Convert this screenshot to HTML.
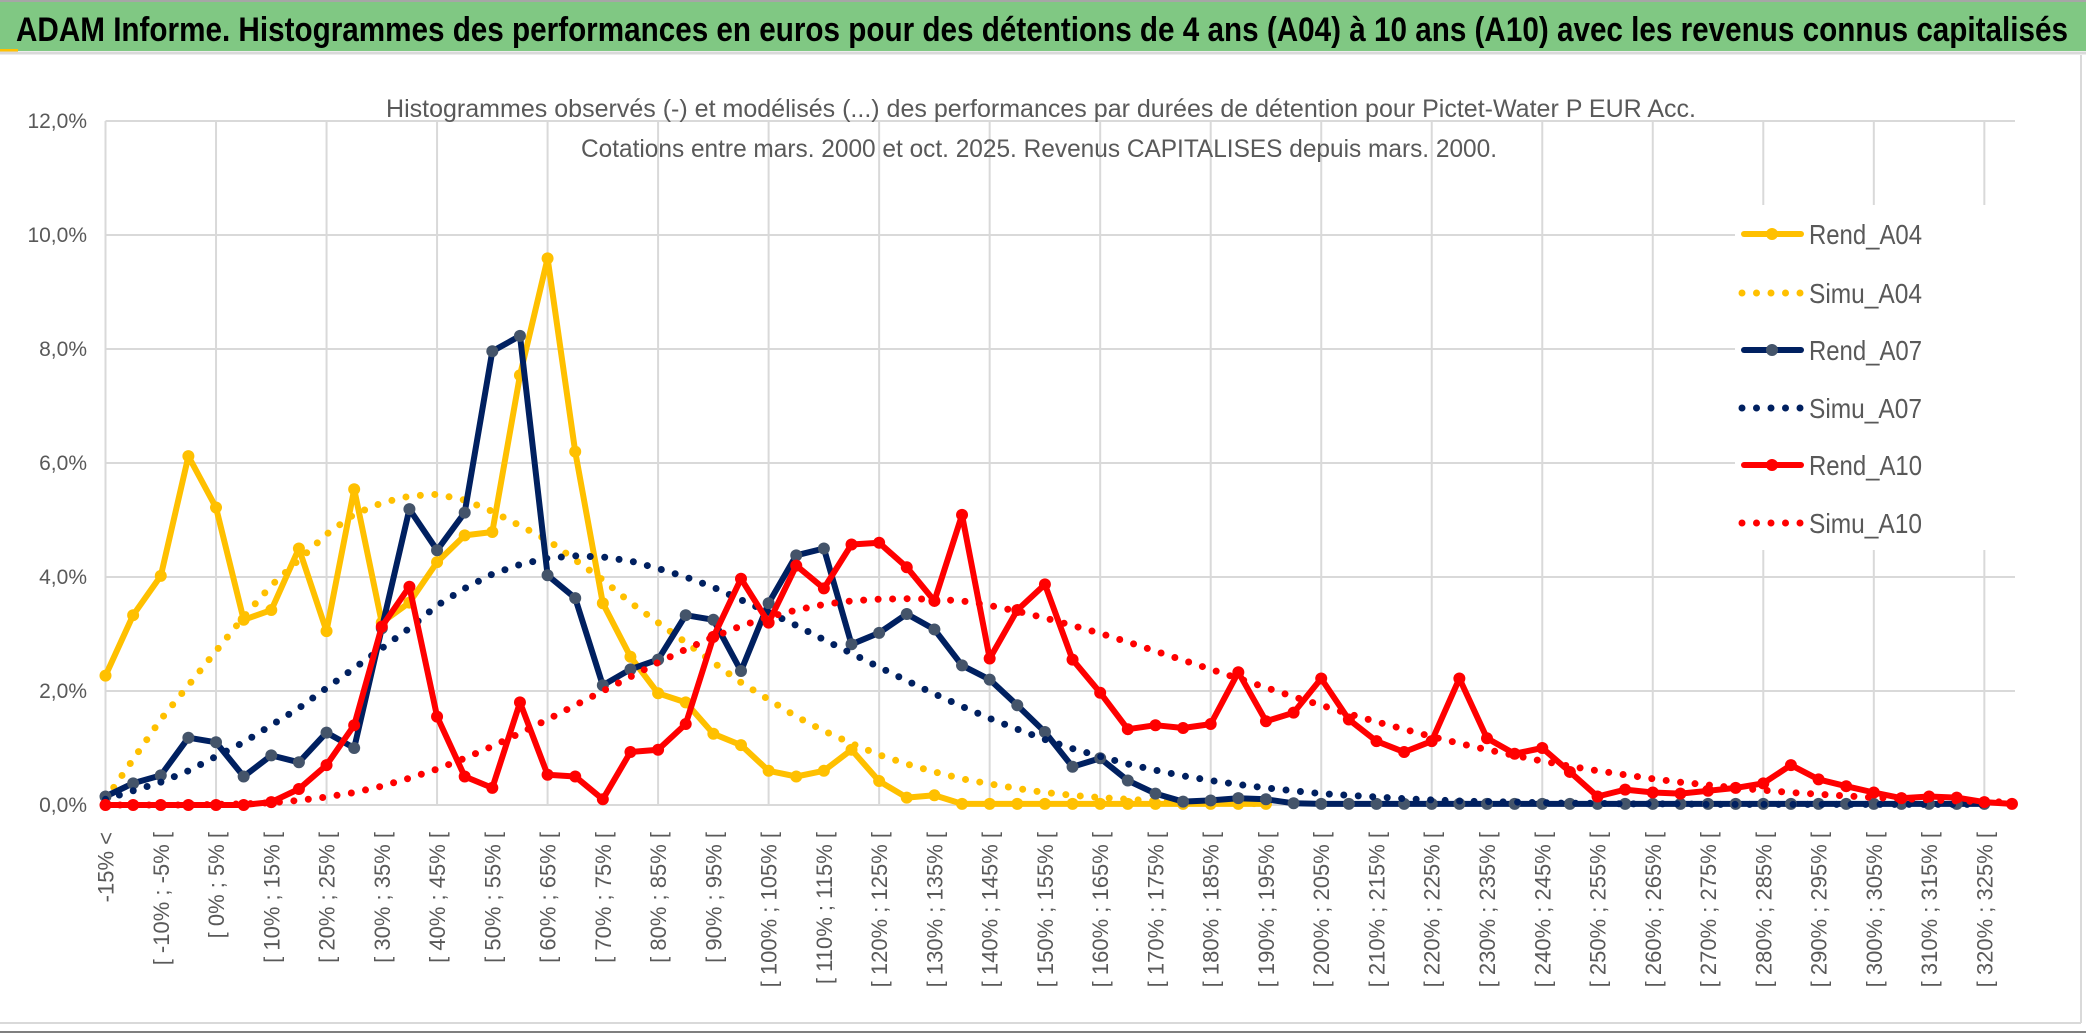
<!DOCTYPE html>
<html><head><meta charset="utf-8"><style>
html,body{margin:0;padding:0;background:#fff;}
svg{display:block;font-family:"Liberation Sans",sans-serif;}
</style></head><body>
<svg id="chart" width="2086" height="1033" viewBox="0 0 2086 1033" xmlns="http://www.w3.org/2000/svg">
<rect x="0" y="0" width="2086" height="1033" fill="#fff"/>
<line x1="0" y1="1" x2="2086" y2="1" stroke="#a6a6a6" stroke-width="2"/>
<rect x="0" y="2" width="2086" height="49" fill="#80c883"/>
<rect x="0" y="49" width="18" height="3" fill="#ffc000"/>
<line x1="0" y1="53" x2="2086" y2="53" stroke="#d9d9d9" stroke-width="3"/>
<text x="16" y="41" font-size="34" font-weight="bold" fill="#000" textLength="2052" lengthAdjust="spacingAndGlyphs">ADAM Informe. Histogrammes des performances en euros pour des détentions de 4 ans (A04) à 10 ans (A10) avec les revenus connus capitalisés</text>
<line x1="2081" y1="55" x2="2081" y2="1023" stroke="#d9d9d9" stroke-width="2"/>
<line x1="0" y1="1023" x2="2081" y2="1023" stroke="#d9d9d9" stroke-width="2"/>
<line x1="0" y1="1032" x2="2086" y2="1032" stroke="#7f7f7f" stroke-width="2"/>
<g id="grid"></g>
<g id="yticks"></g>
<g id="xticks"></g>
<text x="386" y="117" font-size="25" fill="#595959" textLength="1310" lengthAdjust="spacingAndGlyphs">Histogrammes observés (-) et modélisés (...) des performances par durées de détention pour Pictet-Water P EUR Acc.</text>
<text x="581" y="157" font-size="25" fill="#595959" textLength="916" lengthAdjust="spacingAndGlyphs">Cotations entre mars. 2000 et oct. 2025. Revenus CAPITALISES depuis mars. 2000.</text>
<g id="series"></g>
<g id="legend"></g>
</svg>
<script>
const categories = (function(){const c=["-15% <"];for(let k=1;k<70;k++){const lo=-20+5*k;c.push("[ "+lo+"% ; "+(lo+5)+"% [");}return c;})();
const yTicks = [0,2,4,6,8,10,12];
const yTickLabels = ["0,0%","2,0%","4,0%","6,0%","8,0%","10,0%","12,0%"];
const rendA04 = [2.27,3.33,4.02,6.12,5.22,3.25,3.42,4.5,3.05,5.54,3.2,3.55,4.26,4.73,4.79,7.54,9.59,6.2,3.54,2.6,1.96,1.8,1.25,1.05,0.6,0.5,0.6,0.97,0.42,0.13,0.17,0.02,0.02,0.02,0.02,0.02,0.02,0.02,0.02,0.02,0.02,0.02,0.02];
const simuA04 = [0.1,0.8,1.5,2.1,2.7,3.3,3.85,4.3,4.75,5.1,5.3,5.42,5.45,5.35,5.15,4.9,4.65,4.3,3.95,3.55,3.2,2.85,2.5,2.15,1.85,1.55,1.3,1.08,0.88,0.72,0.58,0.46,0.37,0.29,0.22,0.17,0.13,0.1,0.07,0.05,0.04,0.03,0.02];
const rendA07 = [0.15,0.38,0.52,1.18,1.1,0.5,0.87,0.75,1.27,1.0,3.1,5.19,4.47,5.13,7.96,8.23,4.03,3.63,2.1,2.38,2.55,3.33,3.25,2.35,3.54,4.38,4.5,2.82,3.02,3.35,3.08,2.45,2.2,1.75,1.28,0.67,0.82,0.43,0.2,0.06,0.08,0.12,0.1,0.03,0.02,0.02,0.02,0.02,0.02,0.02,0.02,0.02,0.02,0.02,0.02,0.02,0.02,0.02,0.02,0.02,0.02,0.02,0.02,0.02,0.02,0.02,0.02,0.02,0.02];
const simuA07 = [0.1,0.25,0.4,0.6,0.85,1.1,1.4,1.7,2.05,2.4,2.75,3.1,3.5,3.8,4.05,4.22,4.33,4.37,4.35,4.28,4.15,4.0,3.82,3.6,3.38,3.15,2.9,2.66,2.42,2.18,1.95,1.73,1.52,1.33,1.15,0.99,0.85,0.72,0.61,0.51,0.43,0.36,0.3,0.25,0.2,0.17,0.14,0.11,0.09,0.07,0.06,0.05,0.04,0.03,0.03,0.02,0.02,0.02,0.01,0.01,0.01,0.01,0.01,0.01,0.01,0.01,0.01,0.01,0.01];
const rendA10 = [0,0,0,0,0,0,0.05,0.28,0.7,1.4,3.13,3.83,1.55,0.5,0.3,1.8,0.53,0.5,0.1,0.93,0.97,1.42,2.95,3.97,3.2,4.2,3.8,4.57,4.6,4.17,3.58,5.09,2.57,3.42,3.87,2.55,1.97,1.33,1.4,1.35,1.42,2.33,1.47,1.62,2.22,1.5,1.12,0.93,1.12,2.22,1.17,0.9,1.0,0.58,0.15,0.27,0.22,0.2,0.25,0.3,0.38,0.7,0.45,0.33,0.22,0.12,0.15,0.13,0.05,0.02];
const simuA10 = [0,0,0,0,0.01,0.02,0.04,0.08,0.14,0.22,0.33,0.47,0.63,0.82,1.03,1.26,1.5,1.75,2.0,2.25,2.5,2.73,2.95,3.14,3.3,3.42,3.52,3.58,3.61,3.62,3.61,3.58,3.5,3.4,3.28,3.15,3.01,2.86,2.7,2.54,2.38,2.22,2.06,1.9,1.75,1.6,1.46,1.33,1.2,1.08,0.97,0.87,0.77,0.68,0.6,0.53,0.46,0.4,0.35,0.3,0.26,0.22,0.19,0.16,0.13,0.11,0.09,0.07,0.06,0.05];
const seriesNames = ["Rend_A04","Simu_A04","Rend_A07","Simu_A07","Rend_A10","Simu_A10"];

const NS="http://www.w3.org/2000/svg";
const X0=105.5, XS=27.63, Y0=805, YS=57, XR=2015, YT=121;
function xPos(i){return X0+i*XS;}
function yPos(v){return Y0-v*YS;}
function mk(tag,attrs,parent){const e=document.createElementNS(NS,tag);for(const k in attrs)e.setAttribute(k,attrs[k]);parent.appendChild(e);return e;}

const grid=document.getElementById('grid');
yTicks.forEach(function(t){
  const l=mk('line',{x1:X0,x2:XR,y1:yPos(t),y2:yPos(t),stroke:'#d9d9d9','stroke-width':2},grid);
  
  
});
for(let i=0;i<categories.length;i+=4){
  const l=mk('line',{x1:xPos(i),x2:xPos(i),y1:YT,y2:Y0,stroke:'#d9d9d9','stroke-width':2},grid);
  
  
}
const yt=document.getElementById('yticks');
yTicks.forEach(function(t,k){
  const e=mk('text',{x:87,y:yPos(t)+7,'text-anchor':'end','font-size':21,fill:'#595959'},yt);
  e.textContent=yTickLabels[k];
  
  
});
const xt=document.getElementById('xticks');
categories.forEach(function(c,i){
  if(i%2) return;
  const x=xPos(i)+8, y=832;
  const e=mk('text',{x:x,y:y,'text-anchor':'end','font-size':22,fill:'#595959',transform:'rotate(-90 '+x+' '+y+')'},xt);
  e.textContent=c;
  
  
});

const sg=document.getElementById('series');
function pts(arr){return arr.map(function(v,i){return xPos(i).toFixed(1)+','+yPos(v).toFixed(1);}).join(' ');}
function solid(arr,color,mcolor,name){
  const g=mk('g',{},sg);
  
  
  mk('polyline',{points:pts(arr),fill:'none',stroke:color,'stroke-width':6,'stroke-linejoin':'round','stroke-linecap':'round'},g);
  arr.forEach(function(v,i){
    const c=mk('circle',{cx:xPos(i),cy:yPos(v),r:6,fill:mcolor},g);
    
    
  });
}
function dotted(arr,color,name){
  const p=mk('polyline',{points:pts(arr),fill:'none',stroke:color,'stroke-width':7,'stroke-linecap':'round','stroke-dasharray':'0 14.5'},sg);
  
  
}
solid(rendA04,'#ffc000','#ffc000','rend-a04-line');
dotted(simuA04,'#ffc000','simu-a04-line');
solid(rendA07,'#002060','#44546a','rend-a07-line');
dotted(simuA07,'#002060','simu-a07-line');
solid(rendA10,'#ff0000','#ff0000','rend-a10-line');
dotted(simuA10,'#ff0000','simu-a10-line');

const lg=document.getElementById('legend');
mk('rect',{x:1735,y:205,width:320,height:345,fill:'#fff'},lg);
const legY=[234,293,350,408,465,523];
const legC=[['#ffc000','#ffc000',0],['#ffc000',null,1],['#002060','#44546a',0],['#002060',null,1],['#ff0000','#ff0000',0],['#ff0000',null,1]];
seriesNames.forEach(function(n,k){
  const g=mk('g',{},lg);
  
  
  const y=legY[k];
  if(legC[k][2]){
    mk('line',{x1:1742,x2:1802,y1:y,y2:y,stroke:legC[k][0],'stroke-width':7,'stroke-linecap':'round','stroke-dasharray':'0 14.5'},g);
  } else {
    mk('line',{x1:1744,x2:1801,y1:y,y2:y,stroke:legC[k][0],'stroke-width':6,'stroke-linecap':'round'},g);
    mk('circle',{cx:1772,cy:y,r:6,fill:legC[k][1]},g);
  }
  const t=mk('text',{x:1809,y:y+10,'font-size':28,fill:'#595959',textLength:113,lengthAdjust:'spacingAndGlyphs'},g);
  t.textContent=n;
});
</script>
</body></html>
